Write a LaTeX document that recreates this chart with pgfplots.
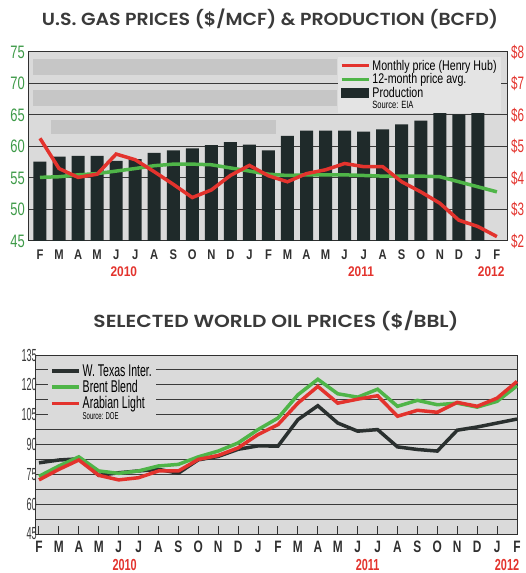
\documentclass[border=0pt]{standalone}
\usepackage{fontspec}
\usepackage{graphicx}
\usepackage{pgfplots}
\pgfplotsset{compat=1.18}
\setmainfont{Liberation Sans}
\newfontfamily\titlefont{Poppins SemiBold}
\definecolor{bgc}{HTML}{DADADA}
\definecolor{legbg}{HTML}{E4E4E4}
\definecolor{bandc}{HTML}{C6C6C6}
\definecolor{gridc}{HTML}{3A3A3A}
\definecolor{framec}{HTML}{303030}
\definecolor{barc}{HTML}{1F2A2A}
\definecolor{redc}{HTML}{E3332D}
\definecolor{greenc}{HTML}{4FB548}
\definecolor{greenlab}{HTML}{3E9A48}
\definecolor{wtic}{HTML}{2A302F}
\definecolor{titlec}{HTML}{3A3A3A}
\newcommand{\cx}[2]{\scalebox{#1}[1]{#2}}
\newcommand{\tm}[1]{\cx{0.8}{#1}}
\newcommand{\bm}[1]{\cx{0.72}{#1}}
\newcommand{\tl}[1]{\cx{0.72}{#1}}
\newcommand{\tr}[1]{\cx{0.65}{#1}}
\newcommand{\bl}[1]{\cx{0.52}{#1}}
\begin{document}
\begin{tikzpicture}
\useasboundingbox (0pt,0pt) rectangle (526pt,573pt);
\node[font=\titlefont\fontsize{17.5}{17.5}\selectfont, text=titlec, inner sep=0pt] at (270pt,554.5pt) {\resizebox{456pt}{\height}{U.S. GAS PRICES (\$/MCF) \& PRODUCTION (BCFD)}};
\node[font=\titlefont\fontsize{17.5}{17.5}\selectfont, text=titlec, inner sep=0pt] at (276pt,252pt) {\resizebox{365pt}{\height}{SELECTED WORLD OIL PRICES (\$/BBL)}};

% ---------- top: production bars ----------
\begin{axis}[at={(28pt,332pt)}, anchor=south west, scale only axis,
  width=479pt, height=189pt,
  xmin=-0.63, xmax=24.53, ymin=45, ymax=75,
  axis background/.style={fill=bgc},
  axis line style={draw=framec, line width=1pt},
  major tick length=0pt,
  ytick={45,50,55,60,65,70,75},
  yticklabels={\tl{45},\tl{50},\tl{55},\tl{60},\tl{65},\tl{70},\tl{75}},
  yticklabel style={font=\fontsize{18}{18}\selectfont, text=greenlab, anchor=east, inner sep=0pt, xshift=-3pt},
  ymajorgrids, grid style={draw=gridc, line width=1pt},
  xtick={0,...,24},
  xticklabels={\tm{F},\tm{M},\tm{A},\tm{M},\tm{J},\tm{J},\tm{A},\tm{S},\tm{O},\tm{N},\tm{D},\tm{J},\tm{F},\tm{M},\tm{A},\tm{M},\tm{J},\tm{J},\tm{A},\tm{S},\tm{O},\tm{N},\tm{D},\tm{J},\tm{F}},
  xticklabel style={font=\bfseries\fontsize{14}{14}\selectfont, text=framec, anchor=center, inner sep=0pt, yshift=-14pt},
  clip=false]
\fill[bandc] (axis cs:-0.35,71.3) rectangle (axis cs:15.6,73.9);
\fill[bandc] (axis cs:-0.35,66.4) rectangle (axis cs:15.6,68.9);
\fill[bandc] (axis cs:20.6,66.6) rectangle (axis cs:23.9,68.6);
\fill[bandc] (axis cs:0.6,62.0) rectangle (axis cs:12.4,64.2);
\addplot[ybar, bar width=13pt, fill=barc, draw=none] coordinates {
 (0,57.6) (1,58.4) (2,58.5) (3,58.5) (4,57.7) (5,58.0) (6,59.0) (7,59.4)
 (8,59.7) (9,60.2) (10,60.7) (11,60.3) (12,59.4) (13,61.7) (14,62.5) (15,62.5)
 (16,62.5) (17,62.35) (18,62.7) (19,63.5) (20,64.1) (21,65.4) (22,65.1) (23,65.3)};
\node[font=\bfseries\fontsize{14}{14}\selectfont, text=redc, inner sep=0pt] at (axis cs:4.4,45) [yshift=-31pt] {\cx{0.85}{2010}};
\node[font=\bfseries\fontsize{14}{14}\selectfont, text=redc, inner sep=0pt] at (axis cs:16.86,45) [yshift=-31pt] {\cx{0.85}{2011}};
\node[font=\bfseries\fontsize{14}{14}\selectfont, text=redc, inner sep=0pt] at (axis cs:23.7,45) [yshift=-31pt] {\cx{0.85}{2012}};
\end{axis}

% ---------- top: prices ----------
\begin{axis}[at={(28pt,332pt)}, anchor=south west, scale only axis,
  width=479pt, height=189pt,
  xmin=-0.63, xmax=24.53, ymin=2, ymax=8,
  hide x axis, axis y line*=right, axis line style={draw=none},
  major tick length=0pt,
  ytick={2,3,4,5,6,7,8},
  yticklabels={\tr{\$2},\tr{\$3},\tr{\$4},\tr{\$5},\tr{\$6},\tr{\$7},\tr{\$8}},
  yticklabel style={font=\fontsize{18}{18}\selectfont, text=redc, anchor=west, inner sep=0pt, xshift=4pt},
  legend style={at={(0.987,0.975)}, anchor=north east, fill=legbg, draw=none,
    font=\fontsize{14}{14}\selectfont, inner xsep=2pt, inner ysep=1pt,
    row sep=-2pt, cells={anchor=west}},
  legend image code/.code={\draw[#1] (0pt,0pt) -- (27pt,0pt);},
  clip=false]
\addlegendimage{redc, line width=3.5pt}
\addlegendentry{\cx{0.76}{Monthly price (Henry Hub)}}
\addlegendimage{greenc, line width=3.5pt}
\addlegendentry{\cx{0.76}{12-month price avg.}}
\addlegendimage{legend image code/.code={\fill[barc] (0pt,-4.5pt) rectangle (27pt,4.5pt);}}
\addlegendentry{\cx{0.76}{Production}}
\addlegendimage{empty legend}
\addlegendentry{\fontsize{10.5}{10.5}\selectfont\cx{0.72}{Source: EIA}}
\addplot[forget plot, greenc, line width=3.5pt] coordinates {
 (0,4.02) (1,4.04) (2,4.10) (3,4.14) (4,4.22) (5,4.30) (6,4.39) (7,4.44)
 (8,4.44) (9,4.42) (10,4.32) (11,4.22) (12,4.12) (13,4.08) (14,4.10) (15,4.10)
 (16,4.10) (17,4.08) (18,4.06) (19,4.06) (20,4.06) (21,4.04) (22,3.88) (23,3.72) (24,3.56)};
\addplot[forget plot, redc, line width=3.5pt] coordinates {
 (0,5.26) (1,4.30) (2,4.02) (3,4.12) (4,4.76) (5,4.58) (6,4.20) (7,3.80)
 (8,3.38) (9,3.62) (10,4.08) (11,4.40) (12,4.07) (13,3.88) (14,4.14) (15,4.26)
 (16,4.46) (17,4.36) (18,4.36) (19,3.88) (20,3.56) (21,3.20) (22,2.66) (23,2.46) (24,2.14)};
\end{axis}

% ---------- bottom: oil prices ----------
\begin{axis}[at={(36pt,39pt)}, anchor=south west, scale only axis,
  width=481pt, height=179pt,
  xmin=-0.15, xmax=24, ymin=45, ymax=135,
  axis background/.style={fill=bgc},
  axis line style={draw=framec, line width=1pt},
  ytick={45,60,75,90,105,120,135},
  yticklabels={\bl{45},\bl{60},\bl{75},\bl{90},\bl{105},\bl{120},\bl{135}},
  yticklabel style={font=\fontsize{17.5}{17.5}\selectfont, text=titlec, anchor=east, inner sep=0pt, xshift=1pt},
  minor y tick num=1,
  ymajorgrids, yminorgrids,
  major grid style={draw=gridc, line width=1pt},
  minor grid style={draw=gridc, line width=1pt},
  ytick style={draw=none},
  xtick={0,...,24}, xtick pos=bottom, tick align=inside,
  major tick length=8pt,
  xtick style={draw=framec, line width=1pt},
  xticklabels={\bm{F},\bm{M},\bm{A},\bm{M},\bm{J},\bm{J},\bm{A},\bm{S},\bm{O},\bm{N},\bm{D},\bm{J},\bm{F},\bm{M},\bm{A},\bm{M},\bm{J},\bm{J},\bm{A},\bm{S},\bm{O},\bm{N},\bm{D},\bm{J},\bm{F}},
  xticklabel style={font=\bfseries\fontsize{16.5}{16.5}\selectfont, text=framec, anchor=center, inner sep=0pt, yshift=-13pt},
  legend style={at={(0.025,0.965)}, anchor=north west, fill=bgc, draw=none,
    font=\fontsize{17}{17}\selectfont, inner xsep=2pt, inner ysep=1pt,
    row sep=-1.5pt, cells={anchor=west}},
  legend image code/.code={\draw[#1] (0pt,0pt) -- (27pt,0pt);},
  clip=false]
\addlegendimage{wtic, line width=3.5pt}
\addlegendentry{\cx{0.62}{W. Texas Inter.}}
\addlegendimage{greenc, line width=3.5pt}
\addlegendentry{\cx{0.62}{Brent Blend}}
\addlegendimage{redc, line width=3.5pt}
\addlegendentry{\cx{0.62}{Arabian Light}}
\addlegendimage{empty legend}
\addlegendentry{\fontsize{10}{10}\selectfont\cx{0.6}{Source: DOE}}
\addplot[forget plot, wtic, line width=3.5pt] coordinates {
 (0,80.8) (1,82.2) (2,82.8) (3,74.5) (4,75.8) (5,76.7) (6,77.5) (7,75.6)
 (8,82.3) (9,84.0) (10,87.6) (11,89.3) (12,89.2) (13,102.5) (14,109.5) (15,100.8)
 (16,96.7) (17,97.5) (18,88.8) (19,87.5) (20,86.7) (21,97.2) (22,98.8) (23,100.8) (24,102.8)};
\addplot[forget plot, greenc, line width=3.5pt] coordinates {
 (0,74.0) (1,79.2) (2,83.8) (3,76.7) (4,75.5) (5,76.7) (6,79.2) (7,80.0)
 (8,83.8) (9,86.7) (10,90.8) (11,97.5) (12,103.3) (13,115.0) (14,122.8) (15,115.5)
 (16,113.8) (17,117.8) (18,109.2) (19,112.2) (20,110.0) (21,110.8) (22,108.8) (23,111.7) (24,119.5)};
\addplot[forget plot, redc, line width=3.5pt] coordinates {
 (0,72.2) (1,77.5) (2,82.2) (3,74.5) (4,72.2) (5,73.3) (6,76.7) (7,76.7)
 (8,82.5) (9,84.5) (10,88.3) (11,95.0) (12,100.0) (13,110.8) (14,119.2) (15,110.8)
 (16,112.8) (17,114.5) (18,104.2) (19,107.2) (20,106.2) (21,111.2) (22,109.2) (23,113.3) (24,121.7)};
\node[font=\bfseries\fontsize{16}{16}\selectfont, text=redc, inner sep=0pt] at (axis cs:4.3,45) [yshift=-31pt] {\cx{0.68}{2010}};
\node[font=\bfseries\fontsize{16}{16}\selectfont, text=redc, inner sep=0pt] at (axis cs:16.5,45) [yshift=-31pt] {\cx{0.68}{2011}};
\node[font=\bfseries\fontsize{16}{16}\selectfont, text=redc, inner sep=0pt] at (axis cs:23.5,45) [yshift=-31pt] {\cx{0.68}{2012}};
\end{axis}
\end{tikzpicture}
\end{document}
